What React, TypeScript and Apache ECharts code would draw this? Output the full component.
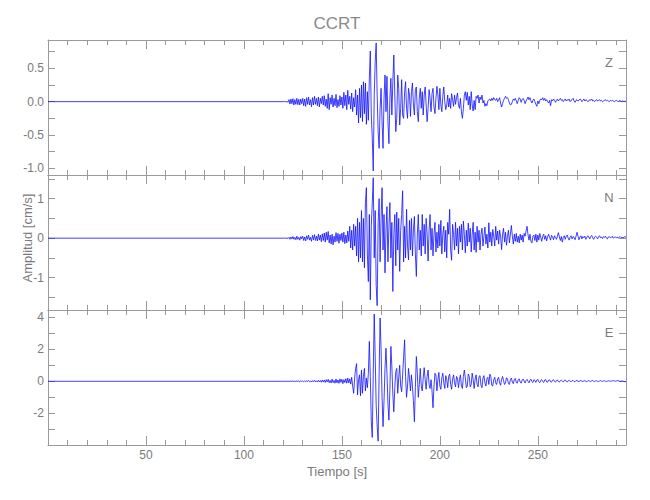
import React, { useEffect, useRef } from "react";
import * as echarts from "echarts";

// ---- Data ----
const stationName = "CCRT";
const componentNames = ["Z", "N", "E"];
const xLabel = "Tiempo [s]";
const yLabel = "Amplitud [cm/s]";
const timeMin = 0;
const timeMax = 295;
const quietStart = 0; // trace is flat from 0 s until the sampled window
const sampleStart = 120; // s
const sampleStep = 0.5; // s

// Z component (cm/s), 0.5 s samples from 120 s to 295 s
const zValues = [
  0, 0, 0.002, -0.002, 0.003, -0.01, 0.03, -0.035, 0.04, -0.03, 0.045, -0.05, 0.03, -0.04, 0.05, -0.045, 0.035, -0.05, 0.04, -0.03,
  0.05, -0.06, 0.04, -0.07, 0.06, -0.04, 0.07, -0.05, 0.03, -0.075, 0.06, -0.05, 0.08, -0.04, 0.05, -0.06, 0.07, -0.08, 0.05, -0.03,
  0.08, -0.05, 0.09, -0.07, 0.04, -0.1, 0.12, -0.12, 0.06, -0.04, 0.1, -0.08, 0.05, -0.06, 0.11, -0.09, 0.03, -0.07, 0.09, -0.05,
  0.07, -0.1, 0.14, -0.06, 0.1, -0.12, 0.17, -0.04, 0.08, -0.11, 0.13, -0.15, 0.06, -0.08, 0.18, -0.2, 0.1, -0.32, 0.2, -0.24,
  0.25, -0.3, 0.3, -0.18, 0.28, -0.34, 0.15, -0.28, 0.35, 0.76, -0.2, -0.55, -1.04, 0.1, 0.6, 0.88, 0.1, -0.45, -0.7, -0.1,
  0.2, -0.3, -0.7, 0.05, 0.4, -0.15, 0.38, -0.3, -0.63, 0.05, 0.35, -0.2, 0.3, 0.7, 0.1, -0.45, -0.25, 0.4, 0.2, -0.35,
  -0.1, 0.33, -0.2, -0.25, 0.15, 0.3, -0.1, -0.25, 0.2, 0.1, -0.22, 0.15, 0.28, -0.05, -0.2, 0.18, 0.22, -0.15, -0.3, 0.05,
  0.2, -0.1, 0.15, -0.2, 0.1, 0.22, -0.05, -0.3, -0.1, 0.18, 0.05, -0.15, 0.12, 0.2, -0.08, -0.18, 0.05, 0.23, 0.1, -0.12,
  0.2, -0.05, -0.15, 0.08, 0.22, 0.0, -0.12, -0.05, 0.1, -0.08, 0.05, -0.1, 0.12, 0.03, -0.07, 0.1, -0.04, 0.06, 0.13, -0.05,
  -0.1, 0.05, -0.15, -0.25, -0.1, 0.1, 0.15, 0.02, 0.14, -0.05, 0.08, -0.12, 0.15, -0.05, -0.14, 0.02, -0.12, 0.08, 0.05, 0.1,
  -0.02, 0.07, 0.03, 0.1, -0.02, 0.02, -0.07, -0.03, -0.06, 0.01, 0.03, 0.04, 0.01, 0.05, 0.02, 0.06, 0.03, 0.02, 0.05, 0.0,
  0.03, 0.06, -0.02, -0.08, -0.03, 0.02, 0.05, 0.08, 0.05, 0.06, 0.03, -0.02, -0.05, -0.04, 0.0, 0.04, 0.02, 0.05, 0.01, -0.03,
  0.02, 0.06, 0.04, -0.01, 0.03, 0.05, 0.02, -0.03, 0.01, 0.04, 0.07, 0.03, 0.06, 0.01, -0.02, 0.02, 0.04, 0.0, -0.04, -0.07,
  0.01, -0.03, 0.02, 0.04, 0.03, 0.06, 0.02, 0.05, 0.01, 0.03, 0.0, -0.02, 0.02, -0.06, 0.03, 0.01, 0.04, 0.02, -0.01, 0.02,
  0.04, 0.01, 0.03, 0.05, 0.02, 0.03, 0.0, 0.02, 0.04, 0.01, 0.03, 0.02, 0.04, 0.0, 0.02, 0.03, 0.05, 0.01, -0.01, 0.02,
  0.03, 0.01, 0.02, 0.04, 0.03, 0.0, 0.02, 0.04, 0.01, 0.03, 0.02, 0.0, 0.01, 0.03, 0.02, 0.04, 0.01, 0.02, 0.0, 0.02,
  0.03, 0.01, 0.02, 0.03, 0.01, 0.02, 0.0, 0.01, 0.02, 0.03, 0.01, 0.02, 0.01, 0.0, 0.02, 0.01, 0.02, 0.01, 0.0, 0.01,
  0.02, 0.01, 0.0, 0.01, 0.02, 0.0, 0.01, 0.01, 0.0, 0.01, 0.0,
];

// N component (cm/s)
const nValues = [
  0, 0, 0.002, -0.002, 0.003, -0.01, 0.02, -0.03, 0.03, -0.02, 0.04, -0.03, 0.02, -0.04, 0.05, -0.03, 0.02, -0.05, 0.04, -0.02,
  0.05, -0.06, 0.03, -0.07, 0.06, -0.03, 0.08, -0.05, 0.02, -0.08, 0.07, -0.04, 0.09, -0.06, 0.05, -0.07, 0.1, -0.05, 0.08, -0.09,
  0.11, -0.06, 0.13, -0.1, 0.15, -0.05, 0.17, -0.12, 0.08, -0.15, 0.1, -0.17, 0.05, -0.1, 0.14, -0.08, 0.12, -0.13, 0.1, -0.06,
  0.13, -0.1, 0.15, -0.14, 0.08, -0.12, 0.18, -0.08, 0.3, -0.25, 0.2, -0.3, 0.35, -0.2, 0.3, -0.45, 0.5, -0.6, 0.4, -0.5,
  0.7, -0.6, 0.5, -0.75, 0.9, 1.28, -0.4, -1.1, 0.6, -1.56, 0.3, 0.9, 1.53, -0.5, 0.7, -1.2, -1.71, 0.4, 1.0, -0.6,
  0.5, 1.28, -0.3, 0.6, -0.88, 0.2, 0.8, -0.6, 0.3, 0.9, -0.5, 0.4, -1.35, 0.1, 0.6, -0.7, 0.66, -0.3, 0.5, -0.84,
  0.2, 0.6, 1.2, -0.6, 0.3, -0.5, 0.73, -0.2, -0.55, 0.45, -0.3, 0.5, -0.45, 0.2, 0.55, -0.4, -0.97, 0.1, 0.6, -0.3,
  0.2, -0.45, 0.6, -0.2, 0.35, -0.4, 0.5, 0.1, -0.58, 0.2, 0.6, -0.3, 0.25, -0.45, 0.1, 0.4, -0.35, 0.15, -0.25, 0.35,
  -0.2, 0.45, -0.4, 0.1, 0.3, -0.35, 0.2, -0.5, 0.4, 0.1, 0.73, -0.3, -0.56, 0.35, 0.1, -0.3, 0.4, -0.2, 0.25, -0.4,
  0.3, -0.1, 0.35, -0.3, 0.43, 0.1, -0.37, 0.2, -0.2, 0.38, -0.1, 0.25, -0.35, 0.1, 0.4, -0.3, 0.15, -0.36, 0.3, -0.1,
  0.2, -0.3, 0.1, 0.25, -0.2, 0.05, 0.28, -0.15, 0.1, -0.25, 0.39, -0.1, 0.15, -0.2, 0.22, 0.05, -0.2, 0.3, -0.05, 0.18,
  -0.15, 0.2, 0.05, -0.29, 0.1, 0.25, -0.1, 0.15, -0.18, 0.05, 0.2, -0.12, 0.1, 0.32, 0.05, -0.15, 0.1, -0.08, 0.12, -0.1,
  0.05, -0.12, 0.1, -0.05, 0.08, -0.1, 0.12, 0.05, 0.18, 0.3, 0.08, -0.05, 0.1, -0.08, -0.12, 0.05, 0.08, -0.06, 0.1, -0.1,
  0.08, -0.05, 0.12, 0.02, -0.08, 0.05, 0.1, -0.03, 0.06, -0.07, 0.04, 0.1, 0.02, -0.05, 0.07, 0.03, -0.04, 0.06, 0.02, -0.03,
  0.05, 0.14, 0.03, -0.06, 0.04, -0.1, 0.02, 0.06, -0.03, 0.05, 0.08, 0.0, -0.05, 0.03, 0.06, -0.02, 0.04, 0.02, -0.04, 0.05,
  0.15, 0.05, -0.04, 0.03, 0.06, -0.02, 0.04, 0.01, 0.05, -0.03, 0.02, 0.06, 0.03, -0.02, 0.04, 0.07, 0.01, -0.03, 0.03, 0.05,
  0.02, -0.02, 0.04, 0.06, 0.01, 0.03, -0.01, 0.04, 0.02, 0.05, 0.0, -0.02, 0.03, 0.04, 0.01, 0.02, 0.05, 0.0, 0.02, 0.03,
  0.01, 0.03, 0.0, 0.02, 0.04, 0.01, 0.02, 0.0, 0.03, 0.04, 0.02,
];

// E component (cm/s)
const eValues = [
  0, 0, 0.002, -0.002, 0.005, -0.01, 0.01, -0.015, 0.02, -0.01, 0.02, -0.02, 0.015, -0.02, 0.025, -0.015, 0.02, -0.025, 0.02, -0.01,
  0.03, -0.03, 0.02, -0.04, 0.04, -0.02, 0.05, -0.03, 0.02, -0.05, 0.04, -0.03, 0.06, -0.04, 0.03, -0.05, 0.06, -0.04, 0.05, -0.06,
  0.07, -0.05, 0.08, -0.07, 0.1, -0.04, 0.12, -0.09, 0.06, -0.1, 0.13, -0.08, 0.05, -0.12, 0.14, -0.1, 0.08, -0.13, 0.15, -0.07,
  0.12, -0.15, 0.1, -0.08, 0.16, -0.12, 0.2, -0.1, 0.15, -0.18, 0.25, -0.3, -0.75, 0.2, 0.8, 1.1, -0.85, 0.1, 0.4, -0.9,
  0.7, -0.75, 0.3, 0.8, -0.6, 0.2, -0.4, 0.5, 2.48, 0.3, -2.5, -3.5, 0.5, 4.19, 1.5, -1.5, -2.8, -3.73, 0.5, 3.94,
  2.0, -1.0, -2.83, -1.2, 0.8, 2.06, 0.5, -1.4, -2.42, -0.5, 2.17, 0.9, -0.8, -1.9, -0.4, 0.6, 0.8, -0.75, 0.2, 1.0,
  -0.3, -0.65, 0.4, 1.5, 2.58, 0.3, -1.0, -0.3, 0.8, 0.2, -0.6, 0.4, -0.3, -1.2, -2.52, -0.4, 1.54, 0.5, -1.0, -0.2,
  0.8, -0.3, -0.6, 0.2, 0.85, 0.1, -0.5, 0.3, 0.7, -0.2, -0.45, 0.1, -0.6, -1.65, -0.3, 0.5, 0.4, -0.6, 0.1, 0.55,
  -0.3, -0.5, 0.2, 0.5, -0.1, -0.45, 0.35, 0.1, -0.4, 0.3, 0.45, -0.2, -0.5, 0.15, 0.4, -0.1, -0.35, 0.3, 0.2, -0.4,
  0.1, 0.4, -0.3, -0.45, 0.3, 0.7, 0.2, -0.4, -0.3, 0.45, 0.3, -0.35, -0.2, 0.5, 0.1, -0.45, 0.15, 0.4, -0.2, -0.35,
  0.3, 0.35, -0.25, -0.4, 0.2, 0.35, -0.1, -0.3, 0.15, 0.25, -0.2, 0.44, 0.3, -0.25, -0.3, 0.1, 0.25, -0.1, -0.2, 0.15,
  0.25, -0.1, -0.25, 0.1, 0.3, 0.05, -0.2, -0.1, 0.22, 0.15, -0.15, -0.2, 0.1, 0.2, -0.05, -0.15, 0.12, 0.18, -0.08, -0.12,
  0.1, 0.15, -0.05, -0.12, 0.08, 0.14, 0.02, -0.1, 0.05, 0.12, 0.0, -0.1, 0.06, 0.13, -0.02, -0.08, 0.1, 0.05, -0.07, 0.08,
  0.12, -0.03, -0.09, 0.05, 0.1, -0.02, -0.07, 0.08, 0.11, -0.04, -0.06, 0.07, 0.09, -0.03, -0.05, 0.06, 0.1, 0.0, -0.06, 0.05,
  0.08, -0.02, -0.05, 0.04, 0.07, 0.01, -0.04, 0.05, 0.08, -0.01, -0.04, 0.03, 0.06, 0.0, -0.03, 0.04, 0.05, -0.02, -0.03, 0.04,
  0.05, 0.0, -0.03, 0.03, 0.05, 0.01, -0.02, 0.02, 0.04, 0.0, -0.03, 0.02, 0.04, 0.01, -0.02, 0.03, 0.05, 0.0, -0.02, 0.02,
  0.03, 0.0, -0.02, 0.02, 0.04, 0.01, -0.01, 0.02, 0.03, 0.0, -0.02, 0.01, 0.03, 0.02, -0.01, 0.01, 0.03, 0.04, 0.02, 0.0,
  0.02, 0.03, 0.04, 0.02, -0.01, 0.0, 0.02, 0.01, -0.02, -0.03, -0.01,
];

const traces = [zValues, nValues, eValues];
// y-axis extents of the three panels and label formats
const yMins = [-1.1, -1.82, -3.97];
const yMaxs = [0.925, 1.6, 4.44];
const ySplits = [4, 3, 4];
const yDecimals = [1, 0, 0];

// ---- Styling ----
const FONT = "'Liberation Sans Narrow', 'Liberation Sans', Arial, sans-serif";
const AXIS_COLOR = "#9a9a9a";
const TEXT_COLOR = "#7a7a7a";
const LINE_COLOR = "#1010ff";
const GRID_LEFT = 48;
const GRID_RIGHT = 24;
const GRID_TOPS = [40, 175, 310];
const GRID_HEIGHT = 135;

function buildSeriesData(values: number[]) {
  const data: number[][] = [[quietStart, 0]];
  values.forEach((v, i) => data.push([sampleStart + i * sampleStep, v]));
  return data;
}

export default function App() {
  const ref = useRef<HTMLDivElement>(null);

  useEffect(() => {
    if (!ref.current) return;
    document.body.style.margin = "0";
    const chart = echarts.init(ref.current, null, { renderer: "svg" });

    const grids = GRID_TOPS.map((top) => ({
      left: GRID_LEFT,
      right: GRID_RIGHT,
      top,
      height: GRID_HEIGHT,
      containLabel: false,
    }));

    const xAxes: any[] = [];
    const yAxes: any[] = [];
    GRID_TOPS.forEach((_, g) => {
      const isLast = g === GRID_TOPS.length - 1;
      ["bottom", "top"].forEach((pos) => {
        xAxes.push({
          type: "value",
          gridIndex: g,
          position: pos,
          min: timeMin,
          max: timeMax,
          interval: 50,
          axisLine: { show: true, onZero: false, lineStyle: { color: AXIS_COLOR, width: 1 } },
          axisTick: { show: true, inside: true, length: 9, lineStyle: { color: AXIS_COLOR } },
          minorTick: { show: true, splitNumber: 5, length: 5, lineStyle: { color: AXIS_COLOR } },
          splitLine: { show: false },
          axisLabel: {
            show: isLast && pos === "bottom",
            showMinLabel: false,
            showMaxLabel: false,
            color: TEXT_COLOR,
            fontFamily: FONT,
            fontSize: 12,
            margin: 4,
          },
        });
      });
      ["left", "right"].forEach((pos) => {
        yAxes.push({
          type: "value",
          gridIndex: g,
          position: pos,
          min: yMins[g],
          max: yMaxs[g],
          splitNumber: ySplits[g],
          axisLine: { show: true, onZero: false, lineStyle: { color: AXIS_COLOR, width: 1 } },
          axisTick: { show: true, inside: true, length: 7, lineStyle: { color: AXIS_COLOR } },
          minorTick: { show: true, splitNumber: 2, length: 7, lineStyle: { color: AXIS_COLOR } },
          splitLine: { show: false },
          axisLabel: {
            show: pos === "left",
            showMinLabel: false,
            showMaxLabel: false,
            color: TEXT_COLOR,
            fontFamily: FONT,
            fontSize: 12,
            margin: 4,
            formatter: (v: number) => v.toFixed(yDecimals[g]),
          },
        });
      });
    });

    const series = traces.map((vals, g) => ({
      type: "line",
      name: componentNames[g],
      xAxisIndex: g * 2,
      yAxisIndex: g * 2,
      data: buildSeriesData(vals),
      showSymbol: false,
      symbol: "none",
      lineStyle: { color: LINE_COLOR, width: 0.8 },
      itemStyle: { color: LINE_COLOR },
      emphasis: { disabled: true },
    }));

    const centerX = GRID_LEFT + (650 - GRID_LEFT - GRID_RIGHT) / 2;
    const graphics: any[] = [
      {
        type: "text",
        x: centerX,
        y: 23,
        style: {
          text: stationName,
          fill: "#8a8a8a",
          font: `17px ${FONT}`,
          align: "center",
          verticalAlign: "middle",
        },
      },
      {
        type: "text",
        x: centerX,
        y: 471,
        style: {
          text: xLabel,
          fill: TEXT_COLOR,
          font: `13px ${FONT}`,
          align: "center",
          verticalAlign: "middle",
        },
      },
      {
        type: "text",
        x: 27,
        y: 238,
        rotation: Math.PI / 2,
        style: {
          text: yLabel,
          fill: TEXT_COLOR,
          font: `13px ${FONT}`,
          align: "center",
          verticalAlign: "middle",
        },
      },
      ...componentNames.map((c, g) => ({
        type: "text",
        x: 609,
        y: GRID_TOPS[g] + 22,
        style: {
          text: c,
          fill: TEXT_COLOR,
          font: `13px ${FONT}`,
          align: "center",
          verticalAlign: "middle",
        },
      })),
    ];

    chart.setOption({
      animation: false,
      backgroundColor: "#ffffff",
      grid: grids,
      xAxis: xAxes,
      yAxis: yAxes,
      series,
      graphic: graphics,
    });

    return () => chart.dispose();
  }, []);

  return <div ref={ref} style={{ width: 650, height: 500 }} />;
}
